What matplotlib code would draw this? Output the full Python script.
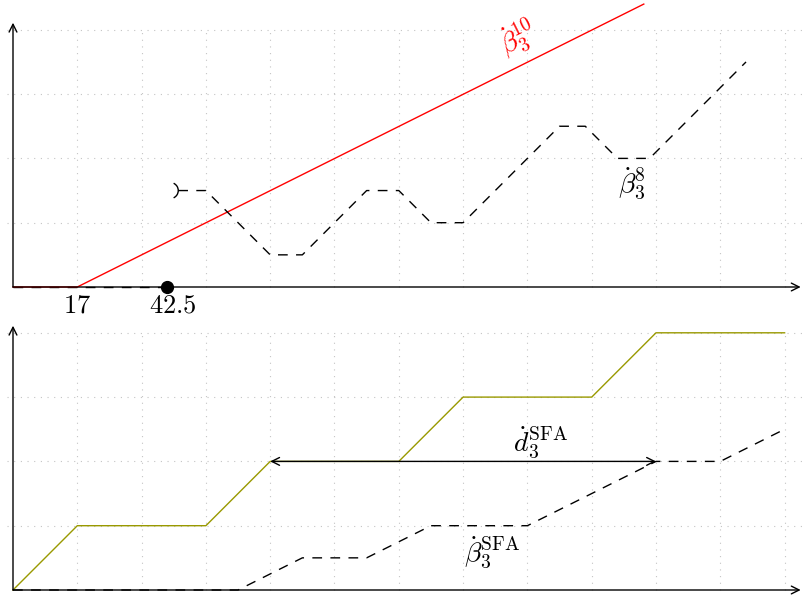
import matplotlib
matplotlib.use("Agg")
import matplotlib.pyplot as plt
from matplotlib.patches import Arc

plt.rcParams['mathtext.fontset'] = 'cm'
plt.rcParams['font.family'] = 'DejaVu Serif'

# painel de cima (unidades da grelha)
vermelho_x = [0, 1, 9.81]
vermelho_y = [0, 0, 4.4]
base_x = [0, 2.4]
base_y = [0, 0]
b8_x = [2.57, 3, 4, 4.5, 5.5, 6, 6.5, 7, 8.5, 8.9, 9.4, 9.9, 11.4]
b8_y = [1.5, 1.5, 0.5, 0.5, 1.5, 1.5, 1, 1, 2.5, 2.5, 2, 2, 3.5]
rotulos_x = [1, 2.49]
rotulos = ["17", "42.5"]

# painel de baixo
d_x = [0, 1, 3, 4, 6, 7, 9, 10, 12]
d_y = [0, 1, 1, 2, 2, 3, 3, 4, 4]
bsfa_x = [0, 3.5, 4.5, 5.5, 6.5, 8, 10, 11, 12]
bsfa_y = [0, 0, 0.5, 0.5, 1, 1, 2, 2, 2.5]
seta_x = [4, 10]
seta_y = 2

W, H = 803, 600
px = 64.3   # pixels por unidade
fig = plt.figure(figsize=(W / 100, H / 100), dpi=100)

# topo: eixo x em y=287 px, painel de 0 a 318 px
ax1 = fig.add_axes([0, 1 - 318 / H, 1, 318 / H])
ax1.set_xlim(-13 / px, (W - 13) / px)
ax1.set_ylim((287 - 318) / px, 287 / px)
# baixo: eixo x em y=590 px, painel de 320 a 600 px
ax2 = fig.add_axes([0, 0, 1, 280 / H])
ax2.set_xlim(-13 / px, (W - 13) / px)
ax2.set_ylim((590 - 600) / px, (590 - 320) / px)

dash = (0, (7, 6))
grelha = dict(color='#c4c4c4', lw=0.8, ls=(0, (1, 5)), zorder=0)
for ax in (ax1, ax2):
    ax.axis('off')
    for i in range(1, 13):
        ax.plot([i, i], [0, 4], **grelha)
    for j in range(1, 5):
        ax.plot([-0.1, 12.3], [j, j], **grelha)
    ax.annotate("", xy=(0, 4.11), xytext=(0, 0),
                arrowprops=dict(arrowstyle='->', color='black', lw=1, shrinkA=0, shrinkB=0,
                                mutation_scale=14))
    ax.annotate("", xy=(12.25, 0), xytext=(0, 0),
                arrowprops=dict(arrowstyle='->', color='black', lw=1, shrinkA=0, shrinkB=0,
                                mutation_scale=14))

ax1.plot(base_x, base_y, color='black', lw=1, ls=dash)
ax1.plot(vermelho_x, vermelho_y, color='red', lw=1)
ax1.plot(b8_x, b8_y, color='black', lw=1, ls=dash)
ax1.plot(base_x[-1], base_y[-1], 'o', color='black', ms=8.5, clip_on=False)
ax1.add_patch(Arc((b8_x[0] - 0.125, b8_y[0]), 0.25, 0.25, theta1=-65, theta2=65,
                  color='black', lw=1))
for x, t in zip(rotulos_x, rotulos):
    ax1.text(x, -0.28, "$" + t + "$", fontsize=19, ha='center', va='center')
ax1.text(7.85, 3.88, r"$\dot{\beta}_3^{10}$", color='red', fontsize=20,
         ha='center', va='center', rotation=26.6)
ax1.text(9.63, 1.62, r"$\dot{\beta}_3^{8}$", fontsize=20, ha='center', va='center')

ax2.plot(d_x, d_y, color='#999900', lw=1)
ax2.plot(bsfa_x, bsfa_y, color='black', lw=1, ls=dash)
ax2.annotate("", xy=(seta_x[1], seta_y), xytext=(seta_x[0], seta_y),
             arrowprops=dict(arrowstyle='<->', color='black', lw=1, shrinkA=0, shrinkB=0,
                             mutation_scale=14))
ax2.text(8.2, 2.29, r"$\dot{d}_3^{\mathrm{SFA}}$", fontsize=20, ha='center', va='center')
ax2.text(7.45, 0.58, r"$\dot{\beta}_3^{\mathrm{SFA}}$", fontsize=20, ha='center', va='center')

fig.savefig("out.png", dpi=100)
